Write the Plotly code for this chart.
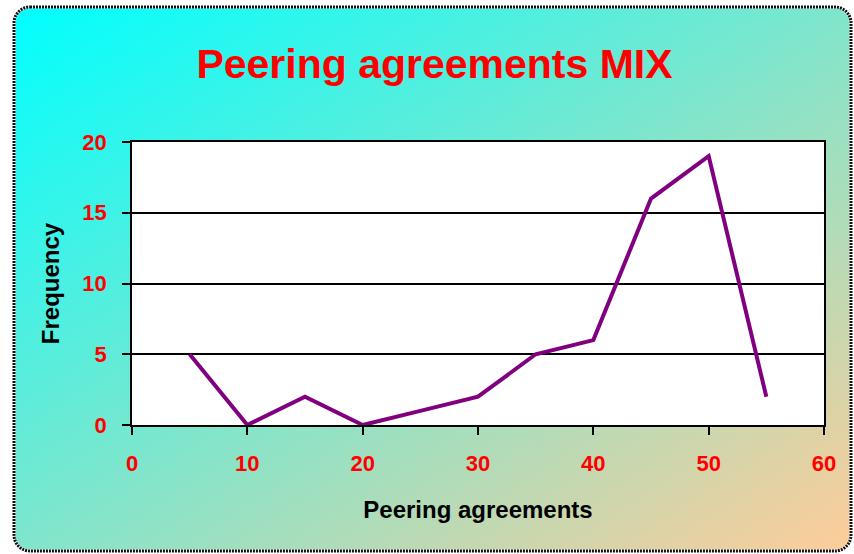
import base64
import plotly.graph_objects as go

# Data
x_values = [5, 10, 15, 20, 25, 30, 35, 40, 45, 50, 55]
frequency = [5, 0, 2, 0, 1, 2, 5, 6, 16, 19, 2]
x_ticks = [0, 10, 20, 30, 40, 50, 60]
y_ticks = [0, 5, 10, 15, 20]

W, H = 854, 554
L, R, T, B = 132, 30, 142, 129

svg = f'''<svg xmlns="http://www.w3.org/2000/svg" width="{W}" height="{H}" viewBox="0 0 {W} {H}">
<defs><linearGradient id="g" x1="0" y1="0" x2="1" y2="1">
<stop offset="0" stop-color="#00FFFF"/>
<stop offset="1" stop-color="#FFCC99"/>
</linearGradient></defs>
<rect x="0" y="0" width="{W}" height="{H}" fill="#FFFFFF"/>
<rect x="14" y="7" width="837" height="544" rx="16" ry="16" fill="url(#g)" stroke="#FFFFFF" stroke-width="3"/>
<rect x="14" y="7" width="837" height="544" rx="16" ry="16" fill="none" stroke="#111111" stroke-width="3" stroke-dasharray="2,1"/>
</svg>'''
src = "data:image/svg+xml;base64," + base64.b64encode(svg.encode()).decode()

pw, ph = W - L - R, H - T - B

fig = go.Figure()
fig.add_trace(go.Scatter(
    x=x_values, y=frequency, mode="lines",
    line=dict(color="#800080", width=4),
    hoverinfo="x+y", showlegend=False,
))

fig.add_layout_image(dict(
    source=src, xref="paper", yref="paper",
    x=-L / pw, y=1 + T / ph, sizex=W / pw, sizey=H / ph,
    xanchor="left", yanchor="top", sizing="stretch", layer="below",
))
fig.add_shape(type="rect", xref="paper", yref="paper", x0=0, x1=1, y0=0, y1=1,
              fillcolor="white", line=dict(width=0), layer="below")

font_family = "Arial, Liberation Sans, sans-serif"
fig.update_layout(
    width=W, height=H,
    margin=dict(l=L, r=R, t=T, b=B),
    paper_bgcolor="white", plot_bgcolor="white",
    font=dict(family=font_family),
    title=dict(
        text="Peering agreements MIX",
        font=dict(family=font_family, size=41, color="#FF0000", weight="bold"),
        x=434.5 / W, xanchor="center", xref="container",
        y=1 - 64 / H, yanchor="middle", yref="container",
    ),
    xaxis=dict(
        range=[0, 60], tickvals=x_ticks, showgrid=False, zeroline=False,
        showline=True, linecolor="black", linewidth=1.5, mirror=True,
        ticks="outside", ticklen=8, tickwidth=1.5, tickcolor="black",
        tickfont=dict(family=font_family, size=22, color="#FF0000", weight="bold"),
        ticklabelstandoff=10,
        title=dict(text="Peering agreements", standoff=26,
                   font=dict(family=font_family, size=24, color="black", weight="bold")),
    ),
    yaxis=dict(
        range=[0, 20], tickvals=y_ticks, showgrid=True, gridcolor="black", gridwidth=1.5,
        zeroline=False,
        showline=True, linecolor="black", linewidth=1.5, mirror=True,
        ticks="outside", ticklen=8, tickwidth=1.5, tickcolor="black",
        tickfont=dict(family=font_family, size=22, color="#FF0000", weight="bold"),
        ticklabelstandoff=11,
        title=dict(text="Frequency", standoff=16,
                   font=dict(family=font_family, size=24, color="black", weight="bold")),
    ),
)

fig.write_html(
    "out.html",
    config={"displayModeBar": False},
    post_script="document.body.style.margin='0';document.body.style.overflow='hidden';",
)
